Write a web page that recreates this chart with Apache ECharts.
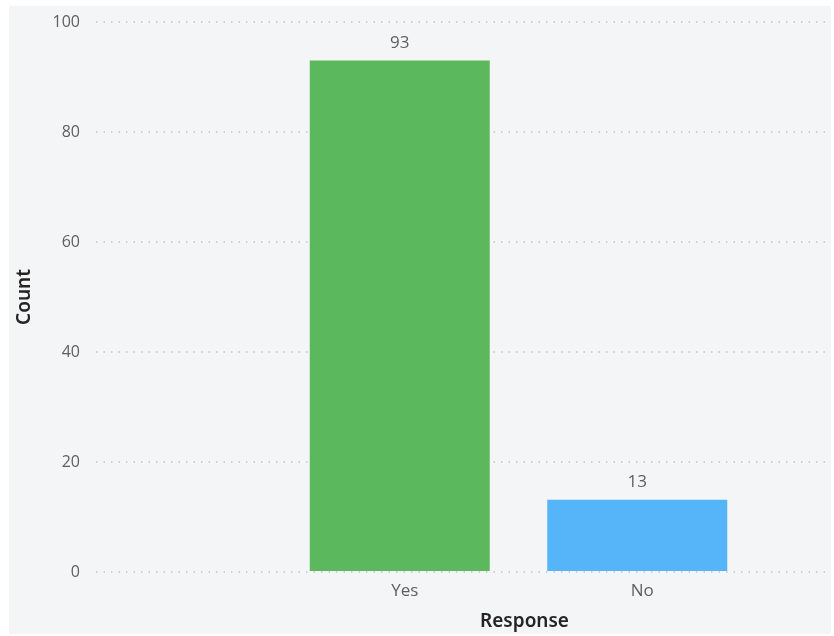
<!DOCTYPE html>
<html><head><meta charset="utf-8">
<script src="https://cdn.jsdelivr.net/npm/echarts@6/dist/echarts.min.js"></script>
<style>html,body{margin:0;padding:0;background:#fff}#c{width:834px;height:636px}</style>
</head><body><div id="c"></div>
<script>
const categories = ['Yes', 'No'];
const counts = [93, 13];
const barColors = ['#5cb85c', '#56b4f8'];
const yTicks = [0, 20, 40, 60, 80, 100];

const chart = echarts.init(document.getElementById('c'), null, {renderer: 'canvas'});
const font = '"Open Sans", "Noto Sans", sans-serif';
chart.setOption({
  backgroundColor: '#ffffff',
  animation: false,
  graphic: [{
    type: 'rect', z: -10, silent: true,
    shape: {x: 9, y: 6, width: 822, height: 628},
    style: {fill: '#f4f5f7'}
  }],
  grid: [
    {left: 96, right: 8, top: 22, bottom: 64},
    {left: 281, right: 78, top: 22, bottom: 64}
  ],
  xAxis: [
    {gridIndex: 0, type: 'category', data: categories, show: false},
    {gridIndex: 1, type: 'category', data: categories,
     axisLine: {show: false}, axisTick: {show: false},
     axisLabel: {color: '#605e5c', fontSize: 17, fontFamily: font, margin: 12, padding: [0, 0, 0, 10]},
     name: 'Response', nameLocation: 'middle', nameGap: 41,
     nameTextStyle: {color: '#252423', fontSize: 19, fontWeight: 600, fontFamily: '"Noto Sans", sans-serif', padding: [0, 0, 0, 12]}
    }
  ],
  yAxis: [
    {gridIndex: 0, type: 'value', min: yTicks[0], max: yTicks[yTicks.length - 1], interval: 20,
     axisLine: {show: false}, axisTick: {show: false},
     axisLabel: {color: '#605e5c', fontSize: 16, fontFamily: font, margin: 16},
     splitLine: {lineStyle: {color: '#c4c4c4', type: [1.5, 6], width: 1.5}},
     name: 'Count', nameLocation: 'middle', nameGap: 62, nameRotate: 90,
     nameTextStyle: {color: '#252423', fontSize: 19, fontWeight: 600, fontFamily: '"Noto Sans", sans-serif'}
    },
    {gridIndex: 1, type: 'value', min: 0, max: 100, interval: 20, show: false, splitLine: {show: false}}
  ],
  series: [{
    type: 'bar', xAxisIndex: 1, yAxisIndex: 1,
    barWidth: 180,
    data: counts.map((v, i) => ({value: v, itemStyle: {color: barColors[i]}})),
    label: {show: true, position: 'top', distance: 9, color: '#605e5c', fontSize: 17, fontFamily: font}
  }]
});
</script></body></html>
